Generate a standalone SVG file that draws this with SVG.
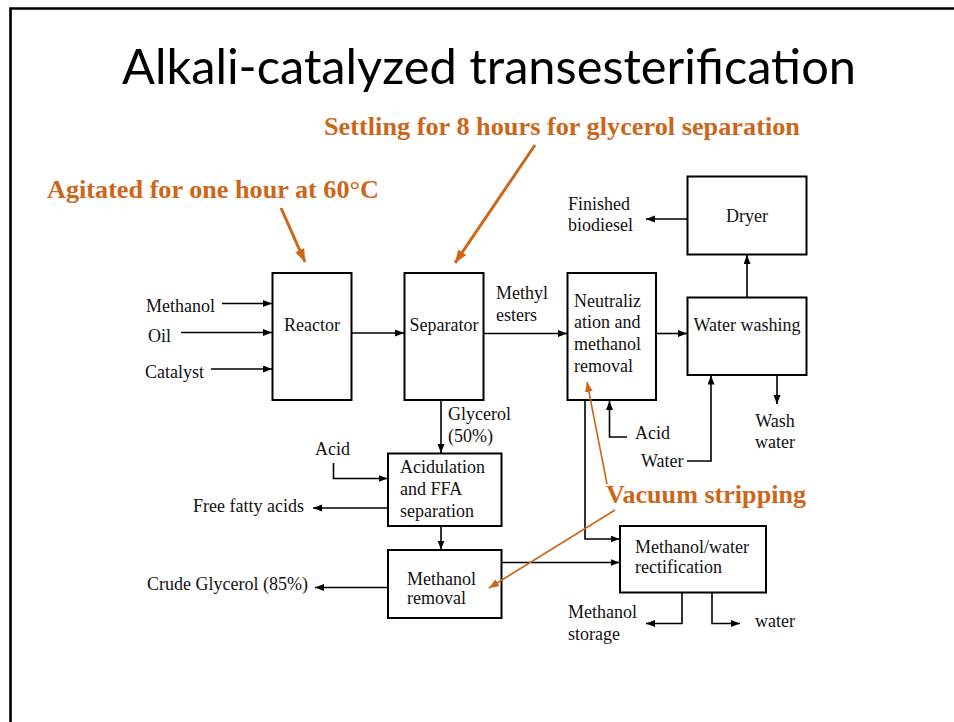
<svg xmlns="http://www.w3.org/2000/svg" width="954" height="722" viewBox="0 0 954 722">
  <defs>
    <marker id="ah" markerUnits="userSpaceOnUse" markerWidth="10" markerHeight="8" refX="9" refY="3.5" orient="auto">
      <path d="M0,0 L9,3.5 L0,7 z" fill="#000"/>
    </marker>
    <marker id="ahOrangeBig" markerUnits="userSpaceOnUse" markerWidth="14" markerHeight="12" refX="13" refY="5" orient="auto">
      <path d="M0,0 L13,5 L0,10 z" fill="#CC661A"/>
    </marker>
    <marker id="ahOrange" markerUnits="userSpaceOnUse" markerWidth="11" markerHeight="9" refX="10" refY="4" orient="auto">
      <path d="M0,0 L10,4 L0,8 z" fill="#CC661A"/>
    </marker>
    <style>
      .box { fill: #fff; stroke: #000; stroke-width: 2; }
      .lbl { font-family: "Liberation Serif", "Times New Roman", serif; font-size: 18px; fill: #111; }
      .mid { text-anchor: middle; }
      .note { font-family: "Liberation Serif", "Times New Roman", serif; font-size: 25.5px; font-weight: bold; fill: #CC661A; }
      .conn path { fill: none; stroke: #000; stroke-width: 1.6; }
      .conn .arr { marker-end: url(#ah); }
      .callout path { fill: none; stroke: #CC661A; }
    </style>
  </defs>

  <rect width="954" height="722" fill="#fff"/>
  <!-- slide frame -->
  <path d="M10.5,722 V8.5 H954" fill="none" stroke="#000" stroke-width="2.6"/>

  <text x="122" y="84" font-family="Lato, 'Open Sans', sans-serif" font-size="48" fill="#000" textLength="734" lengthAdjust="spacingAndGlyphs">Alkali-catalyzed transesterification</text>

  <!-- process units -->
  <g id="reactor">
    <rect class="box" x="272.5" y="273" width="79" height="127"/>
    <text class="lbl mid" x="312" y="331">Reactor</text>
  </g>
  <g id="separator">
    <rect class="box" x="404.5" y="273" width="79" height="127"/>
    <text class="lbl mid" x="444" y="331">Separator</text>
  </g>
  <g id="neutralization">
    <rect class="box" x="567.5" y="273" width="88.5" height="127"/>
    <text class="lbl" x="574" y="307">Neutraliz</text>
    <text class="lbl" x="574" y="328">ation and</text>
    <text class="lbl" x="574" y="350">methanol</text>
    <text class="lbl" x="574" y="372">removal</text>
  </g>
  <g id="water-washing">
    <rect class="box" x="687.5" y="297.5" width="119" height="77.5"/>
    <text class="lbl mid" x="747" y="331">Water washing</text>
  </g>
  <g id="dryer">
    <rect class="box" x="687.5" y="176.5" width="119" height="78"/>
    <text class="lbl mid" x="747" y="222">Dryer</text>
  </g>
  <g id="acidulation">
    <rect class="box" x="388" y="453.5" width="113.5" height="72.5"/>
    <text class="lbl" x="400" y="473">Acidulation</text>
    <text class="lbl" x="400" y="495">and FFA</text>
    <text class="lbl" x="400" y="517">separation</text>
  </g>
  <g id="methanol-removal">
    <rect class="box" x="388" y="550" width="113.5" height="68"/>
    <text class="lbl" x="407" y="585">Methanol</text>
    <text class="lbl" x="407" y="604">removal</text>
  </g>
  <g id="rectification">
    <rect class="box" x="620" y="526" width="146" height="66.5"/>
    <text class="lbl" x="635" y="553">Methanol/water</text>
    <text class="lbl" x="635" y="573">rectification</text>
  </g>

  <!-- stream labels -->
  <g id="stream-labels">
    <text class="lbl" x="146" y="312">Methanol</text>
    <text class="lbl" x="148" y="342">Oil</text>
    <text class="lbl" x="145" y="378">Catalyst</text>
    <text class="lbl" x="496" y="299">Methyl</text>
    <text class="lbl" x="496" y="321">esters</text>
    <text class="lbl" x="568" y="210">Finished</text>
    <text class="lbl" x="568" y="231">biodiesel</text>
    <text class="lbl mid" x="775" y="427">Wash</text>
    <text class="lbl mid" x="775" y="448">water</text>
    <text class="lbl" x="635" y="439">Acid</text>
    <text class="lbl" x="641" y="467">Water</text>
    <text class="lbl" x="448" y="420">Glycerol</text>
    <text class="lbl" x="448" y="442">(50%)</text>
    <text class="lbl" x="315" y="455">Acid</text>
    <text class="lbl" x="193" y="512">Free fatty acids</text>
    <text class="lbl" x="147" y="590">Crude Glycerol (85%)</text>
    <text class="lbl" x="568" y="618">Methanol</text>
    <text class="lbl" x="568" y="640">storage</text>
    <text class="lbl" x="755" y="627">water</text>
  </g>

  <!-- process streams -->
  <g id="connectors" class="conn">
    <path class="arr" d="M222,303.5 H272"/>
    <path class="arr" d="M181,332.5 H272"/>
    <path class="arr" d="M211,369 H272"/>
    <path class="arr" d="M352,333 H404"/>
    <path class="arr" d="M484,333.5 H567"/>
    <path class="arr" d="M656,333.5 H687"/>
    <path class="arr" d="M747,297 V255"/>
    <path class="arr" d="M687,219 H646"/>
    <path class="arr" d="M777,375 V404"/>
    <path class="arr" d="M627,437 H609.5 V401"/>
    <path class="arr" d="M687,461 H711 V375.5"/>
    <path class="arr" d="M585,400 V539 H619.5"/>
    <path class="arr" d="M441,400 V453"/>
    <path class="arr" d="M333.5,463 V478.5 H387.5"/>
    <path class="arr" d="M388,508 H313"/>
    <path class="arr" d="M441,526 V549.5"/>
    <path class="arr" d="M388,587.5 H315"/>
    <path class="arr" d="M501.5,562.5 H619.5"/>
    <path class="arr" d="M682,592.5 V623.5 H646"/>
    <path class="arr" d="M712,592.5 V623.5 H740"/>
  </g>

  <!-- operating-condition callouts -->
  <g id="callouts" class="callout">
    <text class="note" x="47" y="198" textLength="332" lengthAdjust="spacingAndGlyphs">Agitated for one hour at 60°C</text>
    <path d="M281,208 L305,262" stroke-width="3" marker-end="url(#ahOrangeBig)"/>
    <text class="note" x="324" y="135" textLength="476" lengthAdjust="spacingAndGlyphs">Settling for 8 hours for glycerol separation</text>
    <path d="M535,145 L455,263" stroke-width="3" marker-end="url(#ahOrangeBig)"/>
    <text class="note" x="606" y="503" textLength="200" lengthAdjust="spacingAndGlyphs">Vacuum stripping</text>
    <path d="M607,484 L587,382" stroke-width="1.6" marker-end="url(#ahOrange)"/>
    <path d="M615,510 L489,588" stroke-width="1.6" marker-end="url(#ahOrange)"/>
  </g>
</svg>
